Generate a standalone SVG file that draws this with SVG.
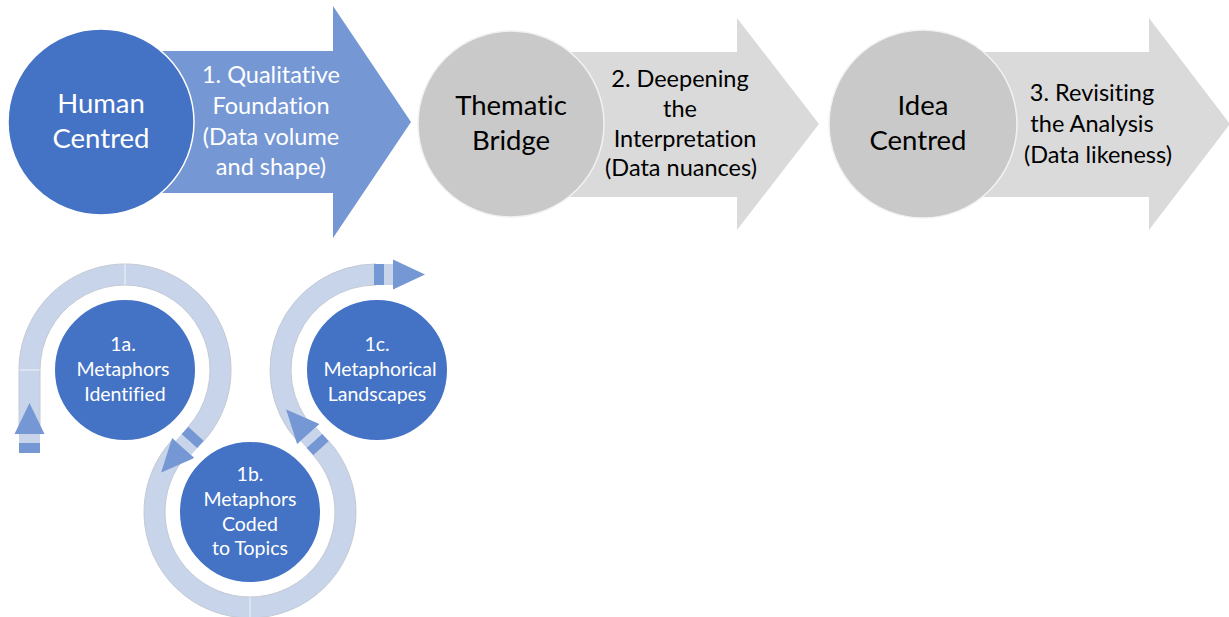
<svg xmlns="http://www.w3.org/2000/svg" width="1229" height="617" viewBox="0 0 1229 617">
  <style>
    .hub { fill: #4472c4; stroke: #ffffff; stroke-width: 1.5; }
    .hub-grey { fill: #c9c9c9; stroke: #f2f2f2; stroke-width: 1.5; }
    .step { fill: #7597d4; }
    .step-grey { fill: #dadada; }
    .sub { fill: #4472c4; stroke: #ffffff; stroke-width: 8; }
    .band { fill: #c8d4ea; stroke: #c4cad4; stroke-width: 1; }
    .seam { stroke: #e9edf5; stroke-width: 1.2; }
    .tip { fill: #7597d4; }
    .gap { fill: #c8d4ea; }
    text { font-family: Lato, "Open Sans", "Liberation Sans", sans-serif; text-anchor: middle; font-variant-ligatures: none; }
    .lg { font-size: 27.5px; }
    .md { font-size: 23.5px; }
    .sm { font-size: 19.5px; }
    .w { fill: #ffffff; }
    .k { fill: #000000; }
  </style>

  <!-- main process row: three stages -->
  <g id="stage-1">
    <polygon class="step" points="150,51 333,51 333,6 411,122 333,238 333,193 150,193"/>
    <circle class="hub" cx="101" cy="122" r="93"/>
    <text class="lg w"><tspan x="101" y="113">Human</tspan><tspan x="101" y="148">Centred</tspan></text>
    <text class="md w"><tspan x="271" y="83">1. Qualitative</tspan><tspan x="271" y="114">Foundation</tspan><tspan x="271" y="145">(Data volume</tspan><tspan x="271" y="175">and shape)</tspan></text>
  </g>

  <g id="stage-2">
    <polygon class="step-grey" points="560,52 737,52 737,18 819,124 737,230 737,197 560,197"/>
    <circle class="hub-grey" cx="511" cy="124" r="93"/>
    <text class="lg k"><tspan x="511" y="115">Thematic</tspan><tspan x="511" y="150">Bridge</tspan></text>
    <text class="md k"><tspan x="680" y="87">2. Deepening</tspan><tspan x="680" y="117">the</tspan><tspan x="685" y="147">Interpretation</tspan><tspan x="681" y="176">(Data nuances)</tspan></text>
  </g>

  <g id="stage-3">
    <polygon class="step-grey" points="972,52 1149,52 1149,18 1230,124 1149,230 1149,197 972,197"/>
    <circle class="hub-grey" cx="923" cy="124" r="94"/>
    <text class="lg k"><tspan x="923" y="115">Idea</tspan><tspan x="918" y="150">Centred</tspan></text>
    <text class="md k"><tspan x="1092" y="101">3. Revisiting</tspan><tspan x="1092" y="132">the Analysis</tspan><tspan x="1098" y="163">(Data likeness)</tspan></text>
  </g>

  <!-- bending sub-process: ring bands and arrow pieces -->
  <g id="connectors">
    <!-- band around 1a: straight lead-in, then clockwise to 42deg -->
    <path class="band" d="M19,434 L19,370 A106,106 0 1 1 203.77,440.93 L188.17,426.88 A85,85 0 1 0 40,370 L40,434 Z"/>
    <line class="seam" x1="19.5" y1="370" x2="39.5" y2="370"/>
    <line class="seam" x1="125" y1="264.5" x2="125" y2="284.5"/>
    <!-- band around 1b: counter-clockwise from 222deg to -42deg -->
    <path class="band" d="M171.23,441.07 A106,106 0 1 0 328.77,441.07 L313.17,455.12 A85,85 0 1 1 186.83,455.12 Z"/>
    <line class="seam" x1="250" y1="597.5" x2="250" y2="617"/>
    <!-- band around 1c: clockwise from 138deg to the top -->
    <path class="band" d="M297.23,440.93 A106,106 0 0 1 376,264 L376,285 A85,85 0 0 0 312.83,426.88 Z"/>

    <!-- lead-in arrow, pointing up -->
    <g transform="translate(29.5,453) rotate(-90)">
      <rect class="tip" x="0" y="-10.5" width="10" height="21"/>
      <rect class="gap" x="10" y="-10.5" width="9" height="21"/>
      <polygon class="tip" points="19,-15 50,0 19,15"/>
    </g>
    <!-- 1a to 1b -->
    <g transform="translate(195.97,433.9) rotate(132)">
      <rect class="tip" x="0" y="-10.5" width="10" height="21"/>
      <rect class="gap" x="10" y="-10.5" width="9" height="21"/>
      <polygon class="tip" points="19,-15 52,0 19,15"/>
    </g>
    <!-- 1b to 1c -->
    <g transform="translate(320.97,448.1) rotate(-132)">
      <rect class="tip" x="0" y="-10.5" width="10" height="21"/>
      <rect class="gap" x="10" y="-10.5" width="9" height="21"/>
      <polygon class="tip" points="19,-15 52,0 19,15"/>
    </g>
    <!-- exit arrow, pointing right -->
    <g transform="translate(376,274.5)">
      <rect class="tip" x="-2" y="-10.5" width="10" height="21"/>
      <rect class="gap" x="8" y="-10.5" width="9" height="21"/>
      <polygon class="tip" points="17,-15 49,0 17,15"/>
    </g>
  </g>

  <g id="step-1a">
    <circle class="sub" cx="125" cy="370" r="74"/>
    <text class="sm w"><tspan x="123" y="351">1a.</tspan><tspan x="123" y="376">Metaphors</tspan><tspan x="125" y="401">Identified</tspan></text>
  </g>
  <g id="step-1b">
    <circle class="sub" cx="250" cy="512" r="74"/>
    <text class="sm w"><tspan x="250" y="481">1b.</tspan><tspan x="250" y="506">Metaphors</tspan><tspan x="250" y="531">Coded</tspan><tspan x="250" y="555">to Topics</tspan></text>
  </g>
  <g id="step-1c">
    <circle class="sub" cx="377" cy="370" r="74"/>
    <text class="sm w"><tspan x="377" y="351">1c.</tspan><tspan x="380" y="376">Metaphorical</tspan><tspan x="377" y="401">Landscapes</tspan></text>
  </g>
</svg>
